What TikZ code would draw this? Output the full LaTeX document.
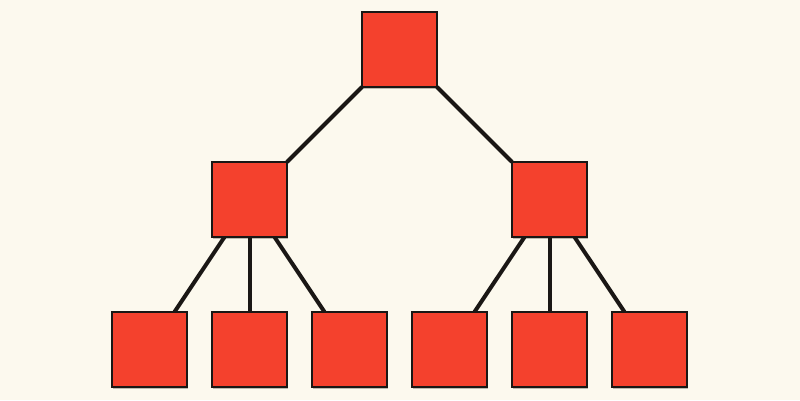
\documentclass[tikz,border=0pt]{standalone}
\usetikzlibrary{shadows}
\definecolor{bg}{HTML}{FCF9EE}
\definecolor{boxred}{HTML}{F4412D}
\definecolor{edge}{HTML}{1A1715}
\begin{document}
\begin{tikzpicture}[x=1pt,y=-1pt,
  sq/.style={draw=edge,line width=1.8pt,fill=boxred,minimum size=75pt,inner sep=0pt,outer sep=0pt,
    drop shadow={shadow xshift=1.2pt,shadow yshift=-1.5pt,opacity=0.25,fill=black}},
  conn/.style={draw=edge,line width=4pt}]
\fill[bg] (0,0) rectangle (800,400);
\useasboundingbox (0,0) rectangle (800,400);
\node[sq] (r) at (399.5,49.5) {};
\node[sq] (a) at (249.5,199.5) {};
\node[sq] (b) at (549.5,199.5) {};
\node[sq] (a1) at (149.5,349.5) {};
\node[sq] (a2) at (249.5,349.5) {};
\node[sq] (a3) at (349.5,349.5) {};
\node[sq] (b1) at (449.5,349.5) {};
\node[sq] (b2) at (549.5,349.5) {};
\node[sq] (b3) at (649.5,349.5) {};
\draw[conn] (r) -- (a);
\draw[conn] (r) -- (b);
\draw[conn] (a) -- (a1);
\draw[conn] (a) -- (a2);
\draw[conn] (a) -- (a3);
\draw[conn] (b) -- (b1);
\draw[conn] (b) -- (b2);
\draw[conn] (b) -- (b3);
\end{tikzpicture}
\end{document}
